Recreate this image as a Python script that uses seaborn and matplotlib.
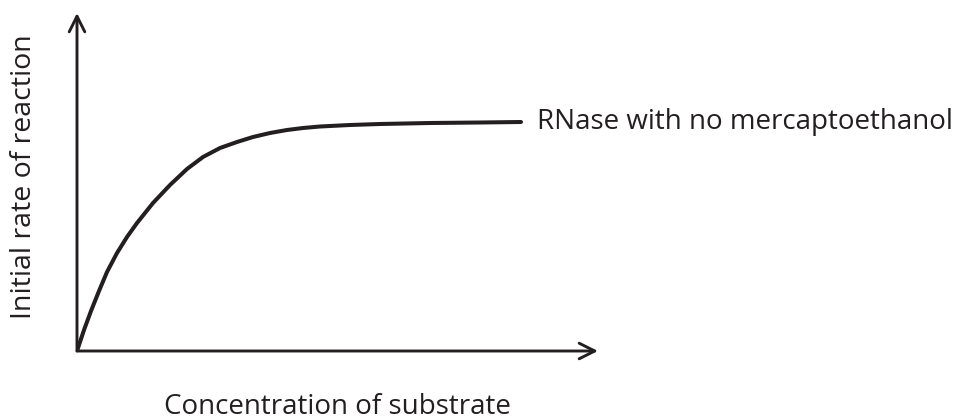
import seaborn as sns
import matplotlib.pyplot as plt
import pandas as pd

# data (arbitrary units)
substrate = [0, 7, 14, 22, 30, 40, 50, 60, 76, 93, 110, 126, 143, 160, 176,
             193, 210, 226, 243, 273, 303, 353, 403, 444]
rate = [0, 21, 40, 60, 79, 98, 114, 128, 148, 166, 182, 194, 203, 209, 214,
        218, 221, 223, 224.5, 226, 227, 228, 228.5, 229]
curve_label = "RNase with no mercaptoethanol"
x_label = "Concentration of substrate"
y_label = "Initial rate of reaction"

X_MAX = 521
Y_MAX = 338
INK = "#231f20"

sns.set_style("white")
plt.rcParams['font.family'] = ["Open Sans", "DejaVu Sans"]

fig = plt.figure(figsize=(9.73, 4.2), dpi=100)
ax = fig.add_axes([77 / 973, 69 / 420, X_MAX / 973, Y_MAX / 420])

df = pd.DataFrame({"substrate": substrate, "rate": rate})
sns.lineplot(data=df, x="substrate", y="rate", ax=ax, color=INK, linewidth=2.9)

ax.set_xlim(0, X_MAX)
ax.set_ylim(0, Y_MAX)
for s in ax.spines.values():
    s.set_visible(False)
ax.set_xticks([])
ax.set_yticks([])

# axis arrows
arrow = dict(arrowstyle="->", color=INK, lw=2.1, mutation_scale=28, shrinkA=0, shrinkB=0)
ax.annotate("", xy=(1, 0), xytext=(0, 0), xycoords="axes fraction", arrowprops=arrow, annotation_clip=False)
ax.annotate("", xy=(0, 1), xytext=(0, 0), xycoords="axes fraction", arrowprops=arrow, annotation_clip=False)

ax.text(substrate[-1] + 16, rate[-1], curve_label, fontsize=20, va="center", ha="left", color=INK)

ax.set_xlabel(x_label, fontsize=20, color=INK, labelpad=30)
ax.set_ylabel(y_label, fontsize=20.5, color=INK)
ax.yaxis.set_label_coords(-39 / X_MAX, 0.515)

fig.savefig("out.png", dpi=100)
